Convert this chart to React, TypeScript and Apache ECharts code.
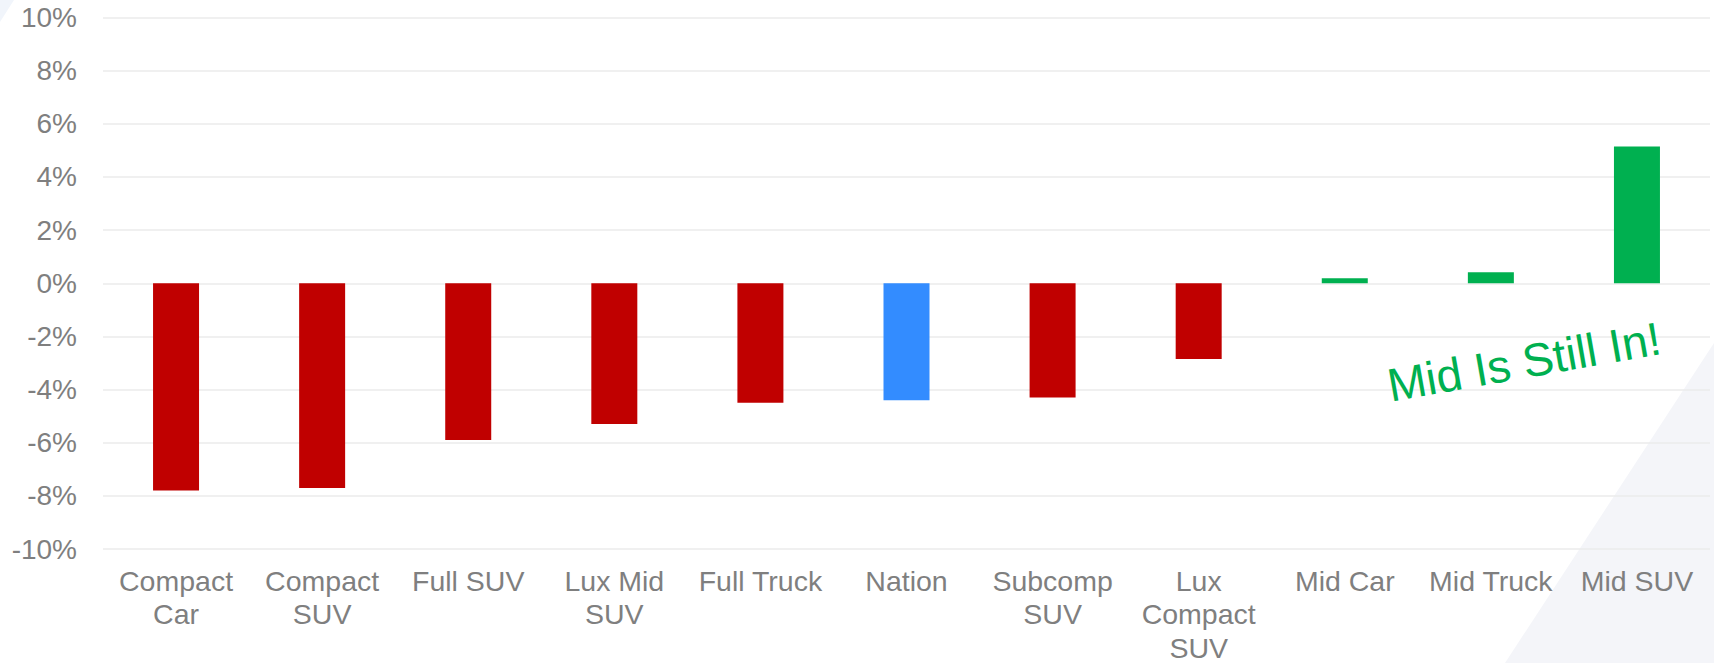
import React, { useEffect, useRef } from "react";
import * as echarts from "echarts";

const categories = [
  "Compact\nCar",
  "Compact\nSUV",
  "Full SUV",
  "Lux Mid\nSUV",
  "Full Truck",
  "Nation",
  "Subcomp\nSUV",
  "Lux\nCompact\nSUV",
  "Mid Car",
  "Mid Truck",
  "Mid SUV",
];
const changePct = [-7.8, -7.7, -5.9, -5.3, -4.5, -4.4, -4.3, -2.85, 0.19, 0.41, 5.15];
const barColors = [
  "#c00000", "#c00000", "#c00000", "#c00000", "#c00000",
  "#338cff",
  "#c00000", "#c00000",
  "#00b050", "#00b050", "#00b050",
];
const yMin = -10;
const yMax = 10;
const yStep = 2;
const annotation = "Mid Is Still In!";

export default function App() {
  const ref = useRef<HTMLDivElement>(null);
  useEffect(() => {
    if (!ref.current) return;
    const chart = echarts.init(ref.current, null, { renderer: "svg" });
    const font = "'Liberation Sans', Arial, sans-serif";
    chart.setOption({
      animation: false,
      backgroundColor: "#ffffff",
      grid: {
        left: 103,
        right: 4,
        top: 17.5,
        bottom: 114,
        containLabel: false,
        outerBoundsMode: "none",
      },
      xAxis: {
        type: "category",
        data: categories,
        axisLine: { show: false },
        axisTick: { show: false },
        axisLabel: {
          color: "#7f7f7f",
          fontSize: 28.5,
          fontFamily: font,
          lineHeight: 33.5,
          margin: 15,
          interval: 0,
          align: "center",
        },
      },
      yAxis: {
        type: "value",
        min: yMin,
        max: yMax,
        interval: yStep,
        axisLine: { show: false },
        axisTick: { show: false },
        splitLine: { lineStyle: { color: "#ebebeb", width: 1.5 } },
        axisLabel: {
          color: "#7f7f7f",
          fontSize: 28,
          fontFamily: font,
          margin: 26,
          formatter: "{value}%",
        },
      },
      series: [
        {
          type: "bar",
          data: changePct.map((v, i) => ({ value: v, itemStyle: { color: barColors[i] } })),
          barWidth: 46,
          z: 5,
        },
      ],
      graphic: [
        {
          type: "polygon",
          z: -100,
          silent: true,
          shape: { points: [[1714, 343], [1505, 663], [1714, 663]] },
          style: { fill: "#f4f5f9" },
        },
        {
          type: "polygon",
          z: -100,
          silent: true,
          shape: { points: [[0, 0], [14, 0], [0, 22]] },
          style: { fill: "#f1f5fb" },
        },
        {
          type: "text",
          z: 100,
          x: 1524,
          y: 362,
          rotation: (10 * Math.PI) / 180,
          style: {
            text: annotation,
            fill: "#00b050",
            fontSize: 46.5,
            fontFamily: font,
            textAlign: "center",
            textVerticalAlign: "middle",
          },
        },
      ],
    });
    return () => chart.dispose();
  }, []);
  return (
    <div
      ref={ref}
      style={{ position: "fixed", left: 0, top: 0, width: 1714, height: 663 }}
    />
  );
}
